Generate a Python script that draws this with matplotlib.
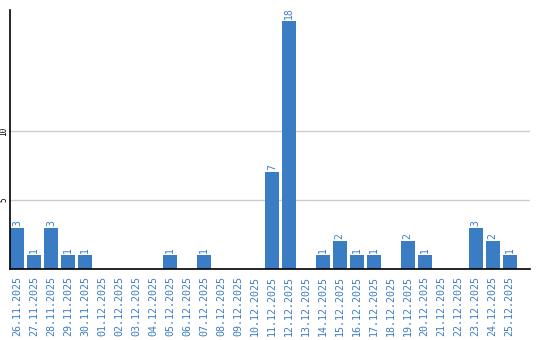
import matplotlib
matplotlib.use('Agg')
import matplotlib.pyplot as plt

# daily counts
dates = ['26.11.2025', '27.11.2025', '28.11.2025', '29.11.2025', '30.11.2025',
         '01.12.2025', '02.12.2025', '03.12.2025', '04.12.2025', '05.12.2025',
         '06.12.2025', '07.12.2025', '08.12.2025', '09.12.2025', '10.12.2025',
         '11.12.2025', '12.12.2025', '13.12.2025', '14.12.2025', '15.12.2025',
         '16.12.2025', '17.12.2025', '18.12.2025', '19.12.2025', '20.12.2025',
         '21.12.2025', '22.12.2025', '23.12.2025', '24.12.2025', '25.12.2025']
counts = [3, 1, 3, 1, 1, 0, 0, 0, 0, 1, 0, 1, 0, 0, 0,
          7, 18, 0, 1, 2, 1, 1, 0, 2, 1, 0, 0, 3, 2, 1]
yticks = [5, 10]

blue = '#3b7dc4'
mono = 'DejaVu Sans Mono'

fig = plt.figure(figsize=(5.4, 3.4), dpi=100)
# axes in pixel coords: left 10, right 530, top 10, bottom 269
ax = fig.add_axes([10 / 540, 1 - 269 / 340, 520 / 540, 259 / 340])

x = list(range(len(dates)))
ax.bar(x, counts, width=0.82, color=blue, zorder=2)

for xi, c in zip(x, counts):
    if c > 0:
        ax.text(xi, c + 0.15, str(c), rotation=90, ha='center', va='bottom',
                color=blue, fontsize=7, family=mono)

ax.set_xlim(-0.42, 30.2)
ax.set_ylim(0, 18.77)

ax.set_yticks(yticks)
ax.set_yticklabels([str(t) for t in yticks], rotation=90, va='center',
                   fontsize=5.5, family=mono)
ax.yaxis.grid(True, color='#cccccc', linewidth=1, zorder=0)
ax.set_axisbelow(True)
ax.tick_params(axis='y', length=0, pad=1)

ax.set_xticks(x)
ax.set_xticklabels(dates, rotation=90, color=blue, fontsize=7.2, family=mono)
ax.tick_params(axis='x', length=0, pad=5)

for s in ['top', 'right']:
    ax.spines[s].set_visible(False)
ax.spines['left'].set_linewidth(1.2)
ax.spines['bottom'].set_linewidth(1.2)

fig.savefig('out.png', dpi=100)
